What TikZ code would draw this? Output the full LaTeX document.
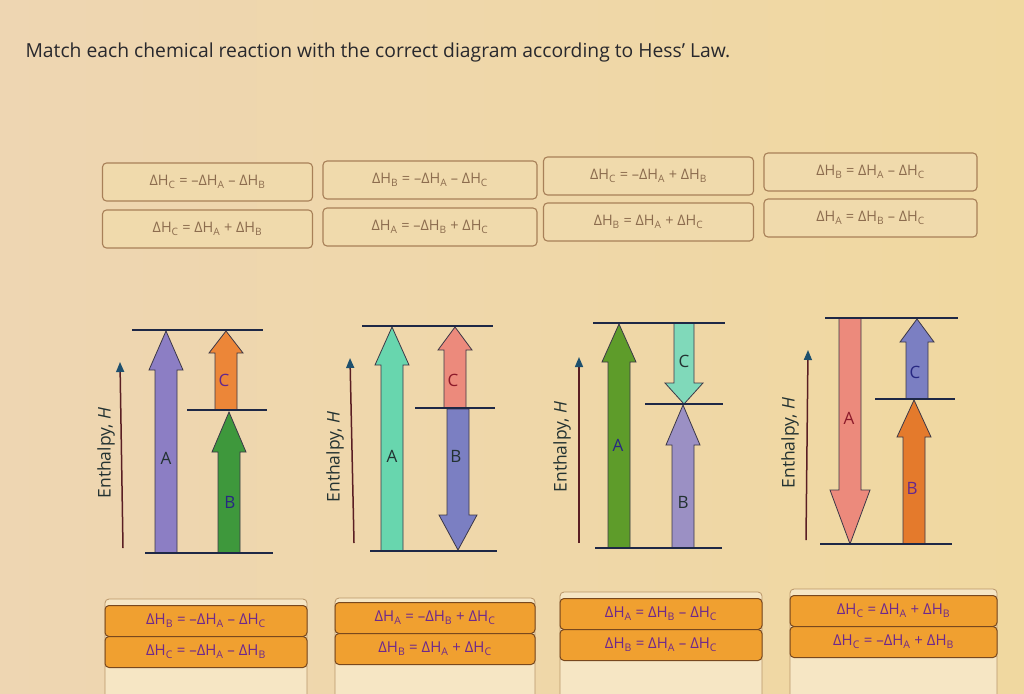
\documentclass[tikz,border=0pt]{standalone}
\usepackage{fontspec}
\setmainfont{Open Sans}
\usetikzlibrary{arrows.meta}
\definecolor{bgL}{RGB}{238,214,178}
\definecolor{bgR}{RGB}{240,216,160}
\definecolor{titlecol}{RGB}{40,40,45}
\definecolor{boxedge}{RGB}{168,128,88}
\definecolor{boxfill}{RGB}{240,218,172}
\definecolor{boxtext}{RGB}{140,108,78}
\definecolor{contfill}{RGB}{246,230,196}
\definecolor{contedge}{RGB}{185,150,105}
\definecolor{orfill}{RGB}{240,160,48}
\definecolor{oredge}{RGB}{120,72,30}
\definecolor{ortext}{RGB}{110,40,140}
\definecolor{levelcol}{RGB}{30,40,70}
\definecolor{axiscol}{RGB}{90,30,35}
\definecolor{axistip}{RGB}{30,80,110}
\definecolor{arredge}{RGB}{60,55,70}
\definecolor{cPurple}{RGB}{140,126,196}
\definecolor{cOrange}{RGB}{236,134,56}
\definecolor{cGreen}{RGB}{62,152,60}
\definecolor{cMint}{RGB}{104,214,174}
\definecolor{cSalmon}{RGB}{236,138,124}
\definecolor{cSlate}{RGB}{123,127,194}
\definecolor{cGreenB}{RGB}{94,156,42}
\definecolor{cMintB}{RGB}{128,217,186}
\definecolor{cLav}{RGB}{155,144,196}
\definecolor{cOrangeB}{RGB}{228,122,44}
\definecolor{lPurple}{RGB}{100,40,140}
\definecolor{lDark}{RGB}{35,50,50}
\definecolor{lRed}{RGB}{140,26,42}
\definecolor{lNavy}{RGB}{40,40,130}
\newcommand\dH[1]{ΔH\textsubscript{#1}}
% block arrow: color, cx, tail y, head-base y, tip y, half shaft, half head
\newcommand\barrow[7]{%
  \filldraw[fill=#1,draw=arredge,line width=0.8pt,line join=miter]
    ({#2-#6},#3) -- ({#2-#6},#4) -- ({#2-#7},#4) -- (#2,#5) -- ({#2+#7},#4)
    -- ({#2+#6},#4) -- ({#2+#6},#3) -- cycle;}
\tikzset{
  topbox/.style={draw=boxedge, line width=1.1pt, rounded corners=4pt, fill=boxfill,
    minimum width=210pt, minimum height=38pt, text=boxtext, font=\fontsize{14.5}{16}\selectfont},
  orbox/.style={draw=oredge, line width=1pt, rounded corners=4pt, fill=orfill,
    minimum height=31pt, text=ortext, font=\fontsize{15}{17}\selectfont},
  contbox/.style={draw=contedge, line width=0.8pt, rounded corners=4pt, fill=contfill},
  level/.style={draw=levelcol, line width=2.6pt},
  axisline/.style={draw=axiscol, line width=1.5pt, -{Triangle[length=10pt,width=8pt,color=axistip]}},
  axislabel/.style={rotate=90, text=lDark, font=\fontsize{17.5}{19}\selectfont},
  arrlabel/.style={font=\fontsize{17}{19}\selectfont}
}
\begin{document}
\begin{tikzpicture}[x=1pt,y=-1pt]
\useasboundingbox (0,0) rectangle (1024,693);
\clip (0,0) rectangle (1024,693);
\shade[left color=bgL, right color=bgR] (0,0) rectangle (1024,693);

\node[anchor=west, text=titlecol, font=\fontsize{19.3}{22}\selectfont] (title) at (22,52)
  {Match each chemical reaction with the correct diagram according to Hess' Law.};

% top answer boxes
\node[topbox] (t11) at (207.5,182) {\dH{C} = –\dH{A} – \dH{B}};
\node[topbox] (t12) at (207.5,229) {\dH{C} = \dH{A} + \dH{B}};
\node[topbox,minimum width=214pt] (t21) at (430,180) {\dH{B} = –\dH{A} – \dH{C}};
\node[topbox,minimum width=214pt] (t22) at (430,227) {\dH{A} = –\dH{B} + \dH{C}};
\node[topbox] (t31) at (648.5,176) {\dH{C} = –\dH{A} + \dH{B}};
\node[topbox] (t32) at (648.5,222) {\dH{B} = \dH{A} + \dH{C}};
\node[topbox,minimum width=213pt] (t41) at (870.5,172) {\dH{B} = \dH{A} – \dH{C}};
\node[topbox,minimum width=213pt] (t42) at (870.5,218) {\dH{A} = \dH{B} – \dH{C}};

% ---------- diagram 1
\barrow{cPurple}{166}{553}{370}{331}{11}{17}
\barrow{cOrange}{226}{410}{353}{331}{11}{17}
\barrow{cGreen}{229}{553}{452}{412}{11}{17}
\draw[level] (132,330) -- (263,330);
\draw[level] (187,410) -- (267,410);
\draw[level] (145,553) -- (273,553);
\node[arrlabel,text=lPurple] (c1) at (224,380) {C};
\node[arrlabel,text=lDark] (a1) at (166,458) {A};
\node[arrlabel,text=lNavy] (b1) at (230,502) {B};
\coordinate (ax1b) at (123,548); \coordinate (ax1t) at (120,362);
\draw[axisline] (ax1b) -- (ax1t);
\node[axislabel] (h1) at (106,453) {Enthalpy, \textit{H}};

% ---------- diagram 2
\barrow{cMint}{392}{551}{365}{327}{11}{17}
\barrow{cSalmon}{455}{408}{350}{327}{11}{17}
\barrow{cSlate}{458}{409}{515}{550}{11}{19}
\draw[level] (362,326) -- (493,326);
\draw[level] (415,408) -- (495,408);
\draw[level] (370,551) -- (497,551);
\node[arrlabel,text=lRed] (c2) at (453,380) {C};
\node[arrlabel,text=lDark] (a2) at (392,456) {A};
\node[arrlabel,text=lDark] (b2) at (456,456) {B};
\coordinate (ax2b) at (354,543); \coordinate (ax2t) at (350,358);
\draw[axisline] (ax2b) -- (ax2t);
\node[axislabel] (h2) at (335,457) {Enthalpy, \textit{H}};

% ---------- diagram 3
\barrow{cGreenB}{619}{548}{362}{324}{11}{17}
\barrow{cMintB}{684}{323}{383}{404}{10}{19}
\barrow{cLav}{683}{548}{445}{405}{11}{17}
\draw[level] (593,323) -- (725,323);
\draw[level] (645,404) -- (723,404);
\draw[level] (595,548) -- (722,548);
\node[arrlabel,text=lDark] (c3) at (684,361) {C};
\node[arrlabel,text=lNavy] (a3) at (618,445) {A};
\node[arrlabel,text=lDark] (b3) at (683,502) {B};
\coordinate (ax3b) at (579,543); \coordinate (ax3t) at (579,357);
\draw[axisline] (ax3b) -- (ax3t);
\node[axislabel] (h3) at (562,447) {Enthalpy, \textit{H}};

% ---------- diagram 4
\barrow{cSalmon}{850}{318}{490}{544}{11}{20}
\barrow{cSlate}{917}{399}{342}{319}{11}{17}
\barrow{cOrangeB}{914}{544}{437}{400}{11}{17}
\draw[level] (825,318) -- (958,318);
\draw[level] (875,399) -- (955,399);
\draw[level] (820,544) -- (952,544);
\node[arrlabel,text=lNavy] (c4) at (915,372) {C};
\node[arrlabel,text=lRed] (a4) at (849,418) {A};
\node[arrlabel,text=lPurple] (b4) at (912,488) {B};
\coordinate (ax4b) at (806,540); \coordinate (ax4t) at (808,350);
\draw[axisline] (ax4b) -- (ax4t);
\node[axislabel] (h4) at (790,443) {Enthalpy, \textit{H}};

% bottom containers
\draw[contbox] (105,599) rectangle (307,710);
\draw[contbox] (335,598) rectangle (535,710);
\draw[contbox] (560,592) rectangle (762,710);
\draw[contbox] (790,589) rectangle (997,710);
\node[orbox,minimum width=202pt] (o11) at (206,621) {\dH{B} = –\dH{A} – \dH{C}};
\node[orbox,minimum width=202pt] (o12) at (206,652) {\dH{C} = –\dH{A} – \dH{B}};
\node[orbox,minimum width=200pt] (o21) at (435,618) {\dH{A} = –\dH{B} + \dH{C}};
\node[orbox,minimum width=200pt] (o22) at (435,649) {\dH{B} = \dH{A} + \dH{C}};
\node[orbox,minimum width=202pt] (o31) at (661,614) {\dH{A} = \dH{B} – \dH{C}};
\node[orbox,minimum width=202pt] (o32) at (661,645) {\dH{B} = \dH{A} – \dH{C}};
\node[orbox,minimum width=207pt] (o41) at (893.5,611) {\dH{C} = \dH{A} + \dH{B}};
\node[orbox,minimum width=207pt] (o42) at (893.5,642) {\dH{C} = –\dH{A} + \dH{B}};
\end{tikzpicture}
\end{document}
